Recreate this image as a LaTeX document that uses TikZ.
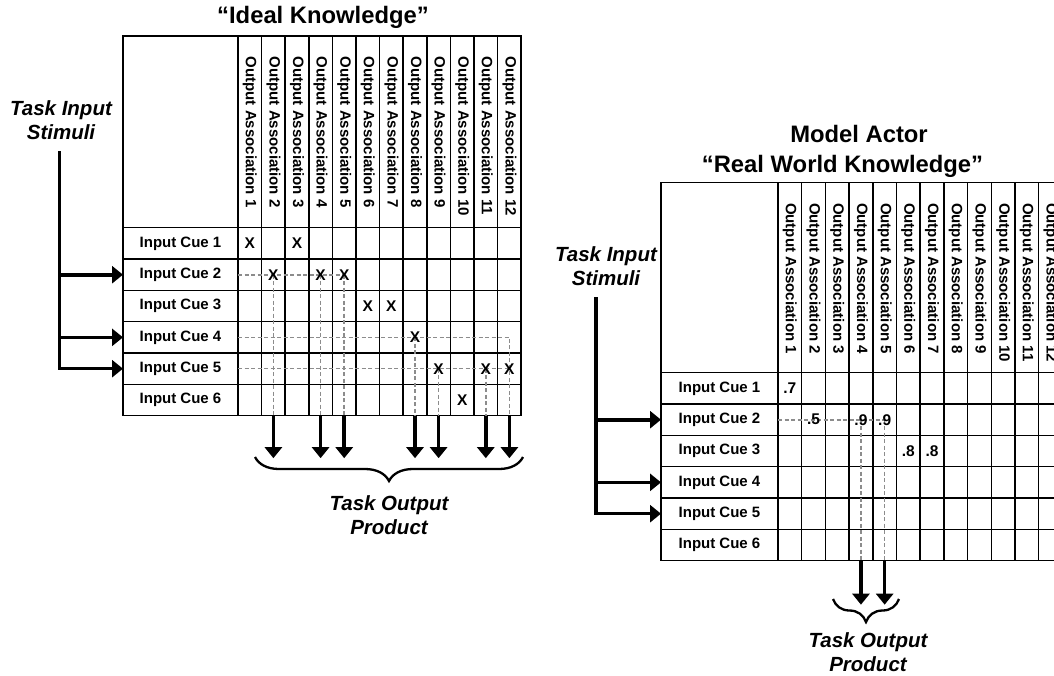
\documentclass[tikz,border=0pt]{standalone}
\usepackage{fontspec}
\setmainfont{Liberation Sans}
\usetikzlibrary{arrows.meta,decorations.pathreplacing,calc}
\tikzset{
  grid/.style={line width=1.5pt, black},
  hdr/.style={font=\bfseries\fontsize{15}{16}\selectfont, inner sep=0pt, rotate=-90, anchor=west},
  cue/.style={font=\bfseries\fontsize{15}{16}\selectfont, inner sep=0pt},
  entry/.style={font=\bfseries\fontsize{15.5}{16}\selectfont, inner sep=0pt},
  guide/.style={draw=black!45, line width=1.6pt, dash pattern=on 4pt off 2.5pt},
  flow/.style={line width=3.6pt, -{Triangle[width=17pt,length=11pt]}},
  stem/.style={line width=3.6pt, line cap=rect},
  brc/.style={line width=2.3pt, decorate, decoration={brace, mirror, amplitude=#1}},
  title/.style={font=\bfseries\fontsize{23.8}{29}\selectfont, inner sep=0pt},
  task/.style={font=\bfseries\itshape\fontsize{20.5}{24}\selectfont, inner sep=0pt, align=center},
}
\begin{document}
\begin{tikzpicture}[x=1pt,y=-1pt]
\useasboundingbox (0,0) rectangle (1054,675);
\clip (0,0) rectangle (1054,675);
\def\RH{31.33}
% ================= LEFT TABLE =================
\def\LX{123}\def\LY{36}\def\LLW{115}\def\LCW{23.6}\def\LHH{191.7}
\draw[grid] (\LX,\LY) rectangle ({\LX+\LLW+12*\LCW},{\LY+\LHH+6*\RH});
\foreach \i in {0,...,11} \draw[grid] ({\LX+\LLW+\i*\LCW},\LY) -- ++(0,{\LHH+6*\RH});
\foreach \k in {0,...,5} \draw[grid] (\LX,{\LY+\LHH+\k*\RH}) -- ++({\LLW+12*\LCW},0);
\foreach \i in {1,...,12} \node[hdr] (L-h\i) at ({\LX+\LLW+(\i-0.5)*\LCW},{\LY+20.5}) {Output Association \i};
\foreach \k in {1,...,6} {
  \node[cue] (L-c\k) at ({\LX+\LLW/2},{\LY+\LHH+(\k-0.5)*\RH}) {Input Cue \k};
  \coordinate (L-e\k) at (\LX,{\LY+\LHH+(\k-0.5)*\RH});
  \coordinate (L-s\k) at ({\LX+\LLW},{\LY+\LHH+(\k-0.5)*\RH});
}
\coordinate (L-bot) at (0,{\LY+\LHH+6*\RH});
\foreach \r/\c in {1/1,1/3,2/2,2/4,2/5,3/6,3/7,4/8,5/9,5/11,5/12,6/10}
  \coordinate (L-p\r-\c) at ({\LX+\LLW+(\c-0.5)*\LCW},{\LY+\LHH+(\r-0.5)*\RH});
% guide lines
\draw[guide] (L-s2) -- (L-p2-5);
\foreach \c in {2,4,5} \draw[guide] (L-p2-\c) -- (L-p2-\c |- L-bot);
\draw[guide] (L-s4) -- (L-s4 -| L-p5-12) -- (L-p5-12 |- L-bot);
\draw[guide] (L-p4-8) -- (L-p4-8 |- L-bot);
\draw[guide] (L-s5) -- (L-p5-12);
\foreach \c in {9,11} \draw[guide] (L-p5-\c) -- (L-p5-\c |- L-bot);
\foreach \r/\c in {1/1,1/3,2/2,2/4,2/5,3/6,3/7,4/8,5/9,5/11,5/12,6/10}
  \node[entry] (L-x\r-\c) at (L-p\r-\c) {X};
% output arrows
\foreach \r/\c in {2/2,2/4,2/5,4/8,5/9,5/11,5/12} {
  \coordinate (L-o\c) at ($(L-p\r-\c |- L-bot)+(0,42.5)$);
  \draw[flow] (L-p\r-\c |- L-bot) -- (L-o\c);
}
\coordinate (L-bl) at (255,457);
\coordinate (L-br) at (523,457);
\draw[brc=24pt] (L-bl) -- (L-br);
\node[task, anchor=north] (L-out) at (389,495.5) {Task Output\\Product};
% input
\node[task, anchor=north] (L-in) at (61,100) {Task Input\\Stimuli};
\coordinate (L-top) at (59.3,152.7);
\draw[stem] (L-top) -- (L-top |- L-e5);
\foreach \k in {2,4,5} \draw[flow] (L-top |- L-e\k) -- (L-e\k);
\node[title, anchor=north] (L-title) at (323,6.5) {“Ideal Knowledge”};
% ================= RIGHT TABLE =================
\def\QX{661}\def\QY{182.3}\def\QLW{117}\def\QCW{23.7}\def\QHH{190.4}
\draw[grid] (\QX,\QY) rectangle ({\QX+\QLW+12*\QCW},{\QY+\QHH+6*\RH});
\foreach \i in {0,...,11} \draw[grid] ({\QX+\QLW+\i*\QCW},\QY) -- ++(0,{\QHH+6*\RH});
\foreach \k in {0,...,5} \draw[grid] (\QX,{\QY+\QHH+\k*\RH}) -- ++({\QLW+12*\QCW},0);
\foreach \i in {1,...,12} \node[hdr] (R-h\i) at ({\QX+\QLW+(\i-0.5)*\QCW},{\QY+20.5}) {Output Association \i};
\foreach \k in {1,...,6} {
  \node[cue] (R-c\k) at ({\QX+\QLW/2},{\QY+\QHH+(\k-0.5)*\RH}) {Input Cue \k};
  \coordinate (R-e\k) at (\QX,{\QY+\QHH+(\k-0.5)*\RH});
  \coordinate (R-s\k) at ({\QX+\QLW},{\QY+\QHH+(\k-0.5)*\RH});
}
\coordinate (R-bot) at (0,{\QY+\QHH+6*\RH});
\foreach \r/\c in {1/1,2/2,2/4,2/5,3/6,3/7}
  \coordinate (R-p\r-\c) at ({\QX+\QLW+(\c-0.5)*\QCW},{\QY+\QHH+(\r-0.5)*\RH});
\draw[guide] (R-s2) -- (R-p2-5);
\foreach \c in {4,5} \draw[guide] (R-p2-\c) -- (R-p2-\c |- R-bot);
\foreach \r/\c/\v in {1/1/.7,2/2/.5,2/4/.9,2/5/.9,3/6/.8,3/7/.8}
  \node[entry] (R-x\r-\c) at (R-p\r-\c) {\v};
\foreach \c in {4,5} {
  \coordinate (R-o\c) at ($(R-p2-\c |- R-bot)+(0,44)$);
  \draw[flow] (R-p2-\c |- R-bot) -- (R-o\c);
}
\coordinate (R-bl) at (833,599);
\coordinate (R-br) at (899,599);
\draw[brc=23pt] (R-bl) -- (R-br);
\node[task, anchor=north] (R-out) at (868,632) {Task Output\\Product};
\node[task, anchor=north] (R-in) at (606,246.7) {Task Input\\Stimuli};
\coordinate (R-top) at (596,298.3);
\draw[stem] (R-top) -- (R-top |- R-e5);
\foreach \k in {2,4,5} \draw[flow] (R-top |- R-e\k) -- (R-e\k);
\node[title, anchor=north] (R-title1) at (859,125) {Model Actor};
\node[title, anchor=north] (R-title2) at (842.5,155) {“Real World Knowledge”};
\end{tikzpicture}
\end{document}
